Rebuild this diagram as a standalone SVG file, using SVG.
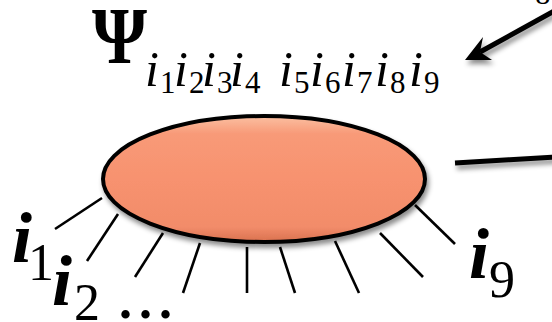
<svg xmlns="http://www.w3.org/2000/svg" width="552" height="322" viewBox="0 0 552 322">
  <defs>
    <style>
      .serif { font-family: "Liberation Serif", "Times New Roman", serif; fill: #000; }
      .it { font-style: italic; }
      .bi { font-style: italic; font-weight: bold; }
      .sub-i { font-size: 50px; }
      .sub-d { font-size: 31px; }
      .big-i { font-size: 72px; }
      .big-d { font-size: 52px; }
      .leg { stroke: #000; stroke-width: 2.6; stroke-linecap: butt; fill: none; }
      .thick { stroke: #000; stroke-width: 5; fill: none; }
    </style>
    <filter id="shadow" x="-20%" y="-20%" width="140%" height="160%">
      <feDropShadow dx="2" dy="4" stdDeviation="2.5" flood-color="#000" flood-opacity="0.45"/>
    </filter>
    <linearGradient id="blobFill" x1="0" y1="0" x2="0" y2="1">
      <stop offset="0" stop-color="#FBC0A2"/>
      <stop offset="0.14" stop-color="#F89A78"/>
      <stop offset="0.5" stop-color="#F7926F"/>
      <stop offset="0.88" stop-color="#F28C6A"/>
      <stop offset="1" stop-color="#D9714F"/>
    </linearGradient>
  </defs>

  <rect width="552" height="322" fill="#fff"/>

  <g id="connectors">
    <line class="leg" x1="102" y1="198" x2="55" y2="229"/>
    <line class="leg" x1="118" y1="214" x2="87" y2="261"/>
    <line class="leg" x1="163" y1="233" x2="135" y2="277"/>
    <line class="leg" x1="200" y1="243" x2="183" y2="293"/>
    <line class="leg" x1="247" y1="247" x2="247" y2="293"/>
    <line class="leg" x1="280" y1="247" x2="295" y2="293"/>
    <line class="leg" x1="335" y1="241" x2="359" y2="293"/>
    <line class="leg" x1="380" y1="233" x2="423" y2="277"/>
    <line class="leg" x1="415" y1="205" x2="455" y2="244"/>
    <g filter="url(#shadow)">
      <line class="thick" x1="455" y1="163" x2="556" y2="157"/>
      <line class="thick" x1="556" y1="10" x2="480" y2="52"/>
      <path d="M465,60 L483,37 L480,52 L492,60 Z" fill="#000"/>
    </g>
  </g>

  <g id="blob">
    <ellipse cx="264" cy="179" rx="161" ry="63" fill="url(#blobFill)" stroke="#000" stroke-width="4" filter="url(#shadow)"/>
  </g>

  <g id="psi-label" class="serif">
    <text x="92" y="63" font-size="81" font-weight="bold" textLength="55" lengthAdjust="spacingAndGlyphs">Ψ</text>
    <text class="it sub-i" x="145" y="86">i</text><text class="sub-d" x="160" y="93">1</text>
    <text class="it sub-i" x="174" y="86">i</text><text class="sub-d" x="189" y="93">2</text>
    <text class="it sub-i" x="202" y="86">i</text><text class="sub-d" x="217" y="93">3</text>
    <text class="it sub-i" x="230" y="86">i</text><text class="sub-d" x="245" y="93">4</text>
    <text class="it sub-i" x="279" y="86">i</text><text class="sub-d" x="294" y="93">5</text>
    <text class="it sub-i" x="310" y="86">i</text><text class="sub-d" x="325" y="93">6</text>
    <text class="it sub-i" x="342" y="86">i</text><text class="sub-d" x="357" y="93">7</text>
    <text class="it sub-i" x="375" y="86">i</text><text class="sub-d" x="390" y="93">8</text>
    <text class="it sub-i" x="409" y="86">i</text><text class="sub-d" x="424" y="93">9</text>
  </g>

  <g id="label-top-right" class="serif">
    <text class="it sub-i" x="511" y="-1">i</text><text class="sub-d" x="535" y="4">8</text>
  </g>

  <g id="label-i1" class="serif">
    <text class="bi big-i" x="12" y="262">i</text><text class="big-d" x="28" y="280">1</text>
  </g>
  <g id="label-i2" class="serif">
    <text class="bi big-i" x="52" y="305">i</text><text class="big-d" x="74" y="320">2</text>
  </g>
  <g id="label-dots" class="serif">
    <text x="119" y="318" font-size="52" font-weight="bold" letter-spacing="7">...</text>
  </g>
  <g id="label-i9" class="serif">
    <text class="bi big-i" x="469" y="278">i</text><text class="big-d" x="489" y="297" font-size="50">9</text>
  </g>
</svg>
